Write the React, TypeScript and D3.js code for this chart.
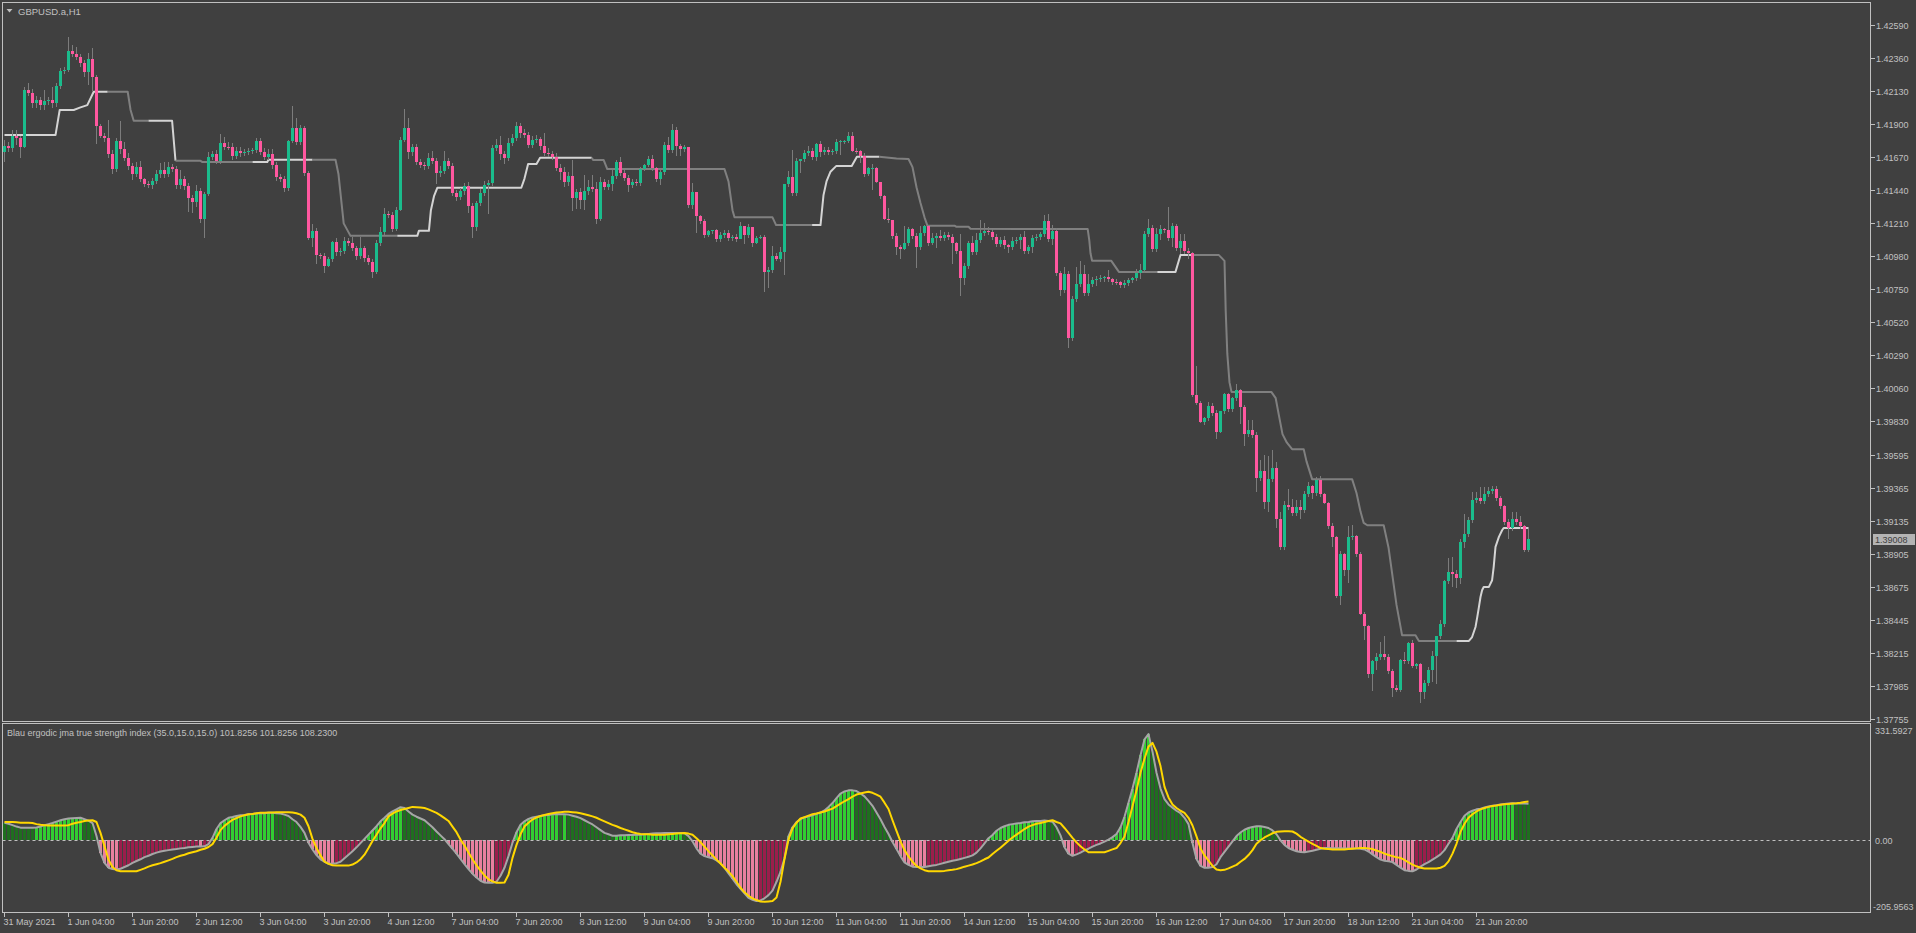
import React from "react";
import * as d3 from "d3";

// ---------------- DATA ----------------
const symbolTitle = "GBPUSD.a,H1";
const indicatorName = "Blau ergodic jma true strength index (35.0,15.0,15.0)";
const PIP = 0.0001;
const firstOpen = 1.41707;

const closes = [
  1.41747,1.41735,1.41816,1.41805,1.41742,1.42137,1.42114,1.42049,1.42067,1.42030,
  1.42060,1.42067,1.42049,1.42165,1.42269,1.42276,1.42409,1.42390,1.42369,1.42327,
  1.42265,1.42353,1.42230,1.41888,1.41816,1.41805,1.41691,1.41589,1.41781,1.41723,
  1.41665,1.41607,1.41551,1.41603,1.41517,1.41482,1.41477,1.41503,1.41551,1.41579,
  1.41551,1.41603,1.41589,1.41475,1.41517,1.41468,1.41387,1.41359,1.41433,1.41238,
  1.41410,1.41672,1.41691,1.41642,1.41768,1.41742,1.41738,1.41677,1.41712,1.41700,
  1.41706,1.41710,1.41716,1.41781,1.41705,1.41670,1.41693,1.41614,1.41531,1.41519,
  1.41456,1.41781,1.41874,1.41774,1.41874,1.41561,1.41103,1.41154,1.40985,1.40980,
  1.40913,1.40957,1.41078,1.41008,1.41013,1.41085,1.41073,1.41033,1.40980,1.41033,
  1.40968,1.40941,1.40866,1.41073,1.41150,1.41273,1.41266,1.41168,1.41301,1.41788,
  1.41874,1.41707,1.41740,1.41635,1.41614,1.41610,1.41661,1.41642,1.41561,1.41575,
  1.41644,1.41610,1.41421,1.41394,1.41433,1.41468,1.41331,1.41184,1.41347,1.41417,
  1.41475,1.41491,1.41735,1.41754,1.41691,1.41665,1.41765,1.41800,1.41886,1.41835,
  1.41823,1.41753,1.41788,1.41793,1.41749,1.41695,1.41690,1.41667,1.41595,1.41568,
  1.41498,1.41537,1.41386,1.41426,1.41370,1.41435,1.41458,1.41444,1.41235,1.41498,
  1.41463,1.41482,1.41537,1.41637,1.41561,1.41526,1.41475,1.41498,1.41486,1.41584,
  1.41614,1.41656,1.41591,1.41514,1.41568,1.41753,1.41719,1.41858,1.41749,1.41726,
  1.41737,1.41335,1.41428,1.41259,1.41226,1.41126,1.41154,1.41161,1.41098,1.41128,
  1.41142,1.41108,1.41115,1.41101,1.41189,1.41126,1.41184,1.41073,1.41108,1.41115,
  1.40868,1.40882,1.40980,1.40959,1.41010,1.41482,1.41530,1.41417,1.41642,1.41656,
  1.41700,1.41714,1.41672,1.41760,1.41702,1.41719,1.41702,1.41714,1.41777,1.41780,
  1.41781,1.41818,1.41714,1.41712,1.41679,1.41551,1.41591,1.41593,1.41496,1.41398,
  1.41238,1.41231,1.41122,1.41045,1.41029,1.41068,1.41166,1.41119,1.41045,1.41142,
  1.41189,1.41068,1.41108,1.41122,1.41108,1.41126,1.41112,1.41068,1.41017,1.40829,
  1.40912,1.41068,1.41010,1.41091,1.41142,1.41154,1.41147,1.41115,1.41061,1.41091,
  1.41057,1.41045,1.41084,1.41091,1.41115,1.41017,1.41040,1.41108,1.41112,1.41136,
  1.41224,1.41099,1.41154,1.40864,1.40743,1.40855,1.40411,1.40680,1.40785,1.40855,
  1.40720,1.40785,1.40813,1.40822,1.40827,1.40834,1.40820,1.40799,1.40797,1.40778,
  1.40792,1.40815,1.40824,1.40862,1.40882,1.41133,1.41175,1.41029,1.41133,1.41168,
  1.41161,1.41103,1.41191,1.41038,1.41085,1.41015,1.40999,1.40011,1.39960,1.39826,
  1.39851,1.39935,1.39888,1.39756,1.39900,1.40018,1.39914,1.39990,1.40046,1.39930,
  1.39740,1.39767,1.39733,1.39434,1.39481,1.39267,1.39425,1.39502,1.39146,1.38954,
  1.39244,1.39230,1.39191,1.39230,1.39209,1.39321,1.39376,1.39330,1.39418,1.39321,
  1.39260,1.39098,1.39023,1.38610,1.38903,1.38791,1.39021,1.39028,1.38905,1.38489,
  1.38403,1.38071,1.38157,1.38187,1.38210,1.38187,1.38090,1.37971,1.37960,1.38164,
  1.38159,1.38282,1.38122,1.38136,1.37943,1.38004,1.38094,1.38192,1.38331,1.38415,
  1.38714,1.38777,1.38765,1.38738,1.38986,1.39042,1.39139,1.39279,1.39293,1.39274,
  1.39321,1.39344,1.39356,1.39297,1.39239,1.39128,1.39088,1.39149,1.39128,1.39100,
  1.38935,1.39008,
];

// upper / lower wick lengths in pips
const upWick = [
  4,3,4,4,1,2,5,3,3,2, 8,2,9,2,2,2,10,4,5,2, 2,4,8,1,1,2,12,3,2,14, 5,3,2,3,4,1,2,2,3,5,
  6,3,2,2,6,2,2,2,4,2, 2,3,2,3,6,4,3,3,3,3, 2,2,2,2,2,3,3,3,2,2, 2,1,15,7,2,1,1,5,2,2,
  2,2,1,3,2,3,2,4,2,8, 2,2,2,2,3,4,2,2,2,2, 13,7,2,2,2,2,4,5,2,3, 7,2,2,2,2,2,3,2,2,3,
  3,2,2,4,6,2,4,3,3,2, 3,2,3,3,2,9,4,2,3,3, 3,3,11,2,3,11,5,9,5,3, 2,3,4,1,3,2,2,2,2,2,
  1,2,3,1,2,2,6,4,2,1, 2,0,6,0,1,1,1,0,1,2, 2,2,1,2,3,0,2,0,1,1, 1,2,7,2,3,0,4,19,2,0,
  2,3,2,1,2,2,2,1,2,1, 1,3,3,2,1,2,1,3,1,0, 1,8,0,2,1,12,2,1,2,5, 1,0,3,2,4,2,2,2,1,12,
  2,2,5,5,9,6,3,2,2,2, 3,1,3,2,2,4,2,2,2,1, 4,5,4,2,1,5,2,2,12,9, 6,7,2,2,2,1,5,1,2,1,
  2,1,1,3,4,2,6,2,4,3, 1,16,2,1,5,5,2,1,20,1, 1,3,2,2,0,1,1,1,4,1, 1,7,7,2,8,11,16,13,4,5,
  3,11,6,5,5,2,3,1,2,3, 1,1,2,1,2,1,8,8,1,1, 1,1,1,3,8,12,2,1,2,1, 6,1,2,1,1,2,2,4,0,3,
  1,10,11,3,2,14,2,6,4,8, 5,3,2,2,1,1,2,5,5,4, 1,7,
];
const dnWick = [
  7,3,3,5,8,1,2,4,4,3, 3,3,4,3,2,2,1,2,2,3, 4,9,10,13,1,3,3,4,2,3, 2,3,4,2,2,2,2,3,2,3,
  3,2,2,3,3,3,10,8,4,3, 13,1,2,2,2,2,2,3,2,3, 2,2,2,2,2,2,2,3,3,2, 3,2,1,2,2,2,1,6,6,2,
  5,1,2,3,3,2,2,2,3,2, 3,2,4,1,2,2,2,2,1,1, 1,5,3,2,2,3,2,2,8,3, 2,2,2,3,2,3,5,8,3,2,
  2,20,2,2,4,4,2,2,2,3, 2,2,2,2,3,2,2,2,2,6, 4,3,9,8,6,7,3,2,3,1, 2,2,5,2,2,2,5,2,2,2,
  1,1,2,2,4,2,2,2,7,5, 2,2,3,12,2,2,1,2,2,2, 2,2,2,2,0,6,2,3,1,1, 14,11,2,1,2,16,2,2,2,8,
  2,2,2,3,3,2,2,2,2,9, 2,1,1,2,5,2,1,15,1,2, 1,2,2,6,7,1,2,2,15,2, 2,2,1,7,2,2,2,14,2,13,
  5,2,2,2,2,2,2,2,2,2, 3,4,2,2,6,2,2,4,2,2, 2,2,4,2,4,2,7,2,2,2, 2,2,2,4,2,3,2,2,2,2,
  2,2,2,2,4,2,2,2,2,4, 2,2,6,2,4,2,4,1,2,1, 2,2,2,5,1,2,2,2,2,12, 8,2,2,10,2,5,7,2,6,2,
  2,2,2,2,6,2,2,4,2,2, 1,2,7,1,6,4,9,2,2,1, 10,3,12,6,2,2,2,6,2,2, 2,2,1,2,8,5,2,8,19,2,
  2,2,9,7,4,4,2,2,2,2, 2,2,2,2,2,2,8,2,2,2, 2,2,
];

// step (trailing) line: [bar, price, state] state 1 = light, 0 = grey
const stepKnots: [number, number, number][] = [
  [0,1.41823,1],[12.75,1.41823,1],[13.8,1.41998,1],[17.3,1.41998,1],[19,1.42016,1],[20.7,1.42032,1],
  [22.3,1.42125,1],[25.8,1.42125,0],[30.8,1.42125,0],[31.5,1.42,0],[32.3,1.41923,0],[36,1.41923,1],
  [41.9,1.41923,1],[42.75,1.41644,0],[49,1.41644,0],[49.5,1.41635,0],[62,1.41635,1],[65.7,1.41635,1],
  [66,1.41651,1],[77,1.41651,0],[82.75,1.41651,0],[83.5,1.4155,0],[84.8,1.41208,0],[86.5,1.41121,0],
  [98.2,1.41121,1],[103.2,1.41121,1],[103.6,1.41156,1],[106.1,1.41156,1],[106.6,1.413,1],[107.4,1.414,1],
  [108.2,1.41456,1],[129.2,1.41456,1],[130,1.4152,1],[130.9,1.41621,1],[133,1.41621,1],[133.9,1.41665,1],
  [146.8,1.41665,0],[147.2,1.41649,0],[149.8,1.41649,0],[150.7,1.41586,0],[180,1.41586,0],[181,1.415,0],
  [182,1.413,0],[182.5,1.4125,0],[192,1.4125,0],[192.9,1.41196,0],[201.9,1.41196,1],[204,1.41196,1],
  [204.75,1.41405,1],[205.5,1.415,1],[206.5,1.41568,1],[207.9,1.41607,1],[211.8,1.41607,1],[213.1,1.41672,1],
  [218.7,1.41672,0],[223,1.4166,0],[226,1.41656,0],[227,1.416,0],[228,1.4146,0],[229,1.4135,0],
  [230,1.4125,0],[230.75,1.41191,0],[237.6,1.41191,0],[238,1.41184,0],[241,1.41184,0],[241.5,1.4117,0],
  [270.8,1.41168,0],[271.2,1.4109,0],[271.5,1.41,0],[271.9,1.40947,0],[276.7,1.40947,0],[278.6,1.4087,0],
  [288.2,1.4087,1],[292.75,1.4087,1],[294,1.40987,1],[296.9,1.40987,0],[303.6,1.40987,0],[305,1.40947,0],
  [305.3,1.406,0],[305.7,1.403,0],[306.25,1.401,0],[306.75,1.40034,0],[316.7,1.40034,0],[317.8,1.3999,0],
  [318.6,1.3987,0],[319.5,1.3974,0],[320.6,1.3968,0],[321.9,1.39635,0],[324.8,1.39635,0],[325.5,1.3955,0],
  [326.9,1.39426,0],[336.9,1.39426,0],[338,1.3933,0],[339,1.392,0],[339.8,1.39121,0],[340.7,1.39105,0],
  [344.8,1.39105,0],[346,1.3895,0],[347,1.3875,0],[348,1.3855,0],[349.4,1.38338,0],[352.75,1.38338,0],
  [353.6,1.38299,0],[363,1.38299,1],[366.1,1.38299,1],[366.9,1.38326,1],[367.75,1.38396,1],[368.2,1.38466,1],
  [368.6,1.38535,1],[369,1.38605,1],[369.4,1.38652,1],[369.8,1.38675,1],[371.1,1.38675,1],[371.9,1.38722,1],
  [372.3,1.38815,1],[372.75,1.38954,1],[373.6,1.39024,1],[374.4,1.3907,1],[374.8,1.39086,1],[381,1.39086,1],
];

// indicator: TSI (grey line & histogram) and signal (yellow)
const tsi = [
  48,45,41,37,34,33.8,33.6,33.5,34.5,37, 41,44,47,51,55,58,60,61,61.5,62, 58,54,47,10,-38,-66,-80,-84,-85,-83,
  -78,-73,-66,-61,-56,-50,-46,-41,-37,-34, -32,-30,-28,-27,-25,-24,-22,-21,-20,-20,
  -19,-13,5,30,47,55,62,64,67,69, 70,72,73,74,75,75,76,76,75,74, 71,67,58,50,36,19,-9,-28,-44,-56,
  -63,-68,-69,-67,-63,-53,-43,-33,-22,-10, 2,14,26,38,52,62,73,80,86,92, 90,80,71,65,60,55,45,35,23,12,
  1,-13,-26,-40,-55,-70,-84,-97,-108,-117, -122,-123,-123,-120,-103,-80,-47,-9,21,42,
  52,59,63,65,67,69,70,72,73,72, 72,71,68,65,61,55,49,43,35,27, 19,15,11,11,12,12,13,13,14,14,
  15,16,17,18,18,19,19,19,19,19, 18,10,-5,-25,-40,-47,-50,-53,-59,-67,
  -80,-96,-111,-127,-140,-153,-166,-171,-175,-173, -167,-158,-145,-120,-92,-53,10,35,50,58,
  63,66,69,73,77,83,93,104,118,131, 137,140,140,138,131,123,110,96,77,58, 36,16,-7,-27,-47,-65,-72,-77,-78,-78,
  -78,-76,-74,-72,-69,-66,-63,-60,-58,-55, -52,-49,-45,-37,-25,-11,4,13,25,33, 38,42,44,46,47,49,50,52,53,53,
  54,53,51,35,12,-22,-40,-46,-42,-37, -31,-26,-20,-15,-11,-6,0,7,16,35, 65,105,145,190,240,285,300,250,190,145,
  115,100,91,82,75,62,44,-10,-55,-75, -80,-80,-78,-70,-50,-35,-20,-5,10,20, 28,33,36,38,38,36,33,26,15,-2,
  -15,-24,-29,-33,-35,-36,-34,-32,-29,-26, -24,-24.2,-24.4,-24.6,-24.8,-25,-25.2,-25.4,-25.6,-26,
  -28,-34,-42,-50,-57,-60,-62,-64,-72,-80, -87,-89,-90,-85,-77,-70,-64,-57,-50,-42,
  -30,-12,5,30,50,68,77,82,86,88, 91,94,96,98,100,101.5,102.5,103,102.9,102.7, 102.3,101.8256,
];
const signal = [
  50,50,50,49,48,48,48,47,44,42, 41,40,40,40,40,40,41,45,48,50, 53,54,55,50,19,-19,-57,-78,-87,-90,
  -90,-90,-90,-90,-86,-82,-77,-73,-70,-67, -63,-59,-55,-50,-46,-43,-39,-36,-33,-29,
  -26,-21,-13,5,27,39,48,56,61,66, 69,72,73,75,76,76,77,77,78,78, 78,78,77,75,71,62,38,2,-24,-45,
  -63,-69,-73,-74,-74,-74,-74,-71,-65,-56, -43,-24,-4,14,32,47,66,74,80,84, 87,90,93,92,91,90,86,81,76,69,
  61,53,37,21,0,-17,-37,-56,-73,-88, -102,-113,-119,-123,-123,-122,-100,-52,-15,15,
  37,48,57,63,67,70,73,75,77,78, 79,79,78,77,75,72,69,66,62,57, 52,47,42,38,33,29,25,21,18,16,
  15,15,14,14,14,14,15,16,17,18, 19,17,14,4,-7,-20,-33,-45,-57,-68,
  -80,-91,-104,-120,-137,-150,-160,-167,-172,-176, -177,-176,-175,-165,-120,-55,0,32,48,60,
  64,68,72,74,77,80,84,88,95,102, 109,115,122,128,131,134,136,133,128,122, 105,87,55,25,-5,-30,-48,-63,-75,-82,
  -87,-90,-90,-90,-90,-89,-87,-86,-84,-81, -77,-74,-71,-67,-62,-56,-51,-41,-32,-23, -13,-3,6,14,22,30,37,41,45,47,
  50,53,55,50,46,33,19,5,-8,-19, -28,-36,-36,-36,-36,-36,-32,-28,-24,-10, 9,50,95,140,190,230,265,275,250,209,
  150,120,100,90,82,76,62,40,9,-25, -45,-60,-75,-85,-87,-86,-82,-77,-72,-63, -55,-44,-30,-12,-2,6,12,18,22,23,
  24,24,23,17,8,1,-6,-12,-18,-24, -26,-27,-28,-28,-28,-28,-27,-26,-25,-24,
  -24,-25,-27,-31,-35,-40,-44,-47,-50,-52, -58,-65,-71,-76,-80,-82,-82,-82,-82,-80,
  -75,-62,-40,-12,22,45,62,72,80,86, 90,93,95.5,97,99,100.5,101.5,102.5,103.5,105, 107,108.23,
];

const priceTicks = [
  1.42590,1.42360,1.42130,1.41900,1.41670,1.41440,1.41210,1.40980,1.40750,1.40520,1.40290,
  1.40060,1.39830,1.39595,1.39365,1.39135,1.38905,1.38675,1.38445,1.38215,1.37985,1.37755,
];
const indMax = 331.5927;
const indMin = -205.9563;

const timeLabels = [
  "31 May 2021","1 Jun 04:00","1 Jun 20:00","2 Jun 12:00","3 Jun 04:00","3 Jun 20:00",
  "4 Jun 12:00","7 Jun 04:00","7 Jun 20:00","8 Jun 12:00","9 Jun 04:00","9 Jun 20:00",
  "10 Jun 12:00","11 Jun 04:00","11 Jun 20:00","14 Jun 12:00","15 Jun 04:00","15 Jun 20:00",
  "16 Jun 12:00","17 Jun 04:00","17 Jun 20:00","18 Jun 12:00","21 Jun 04:00","21 Jun 20:00",
];
const barsPerLabel = 16;

// ---------------- STYLE ----------------
const W = 1916, H = 933;
const BG = "#404040";
const FG = "#c0c0c0";
const BULL = "#1abc8c";
const BEAR = "#ff579f";
const WICK = "#7c7c7c";
const STEP_LIGHT = "#d4d4d4";
const STEP_GREY = "#808080";
const H_UP_STRONG = "#32cd32";
const H_UP_WEAK = "#1f6e1f";
const H_DN_STRONG = "#e8809f";
const H_DN_WEAK = "#9a1e4b";
const TSI_C = "#a6a6a6";
const SIG_C = "#ffd700";
const FONT = "'Liberation Sans', Arial, sans-serif";

const L = 2.5, R = 1870.5, MT = 2.5, MB = 721.5, IT = 723.5, IB = 912.5;

export default function App() {
  const n = closes.length;
  const x = d3.scaleLinear().domain([0, 1]).range([4, 8]);
  const yP = d3.scaleLinear().domain([priceTicks[priceTicks.length - 1], priceTicks[0]]).range([719, 25]);
  const yI = d3.scaleLinear().domain([indMin, indMax]).range([912, 723]);

  const opens = closes.map((c, i) => (i === 0 ? firstOpen : closes[i - 1]));
  const highs = closes.map((c, i) => Math.max(opens[i], c) + upWick[i] * PIP);
  const lows = closes.map((c, i) => Math.min(opens[i], c) - dnWick[i] * PIP);

  // step line runs
  const runs: { state: number; pts: [number, number][] }[] = [];
  for (let i = 0; i < stepKnots.length - 1; i++) {
    const s = stepKnots[i][2];
    const a: [number, number] = [stepKnots[i][0], stepKnots[i][1]];
    const b: [number, number] = [stepKnots[i + 1][0], stepKnots[i + 1][1]];
    const last = runs[runs.length - 1];
    if (last && last.state === s) last.pts.push(b);
    else runs.push({ state: s, pts: [a, b] });
  }
  const stepLine = d3.line<[number, number]>().x((d) => x(d[0]) + 0.5).y((d) => yP(d[1]));
  const indLine = d3.line<number>().x((_, i) => x(i) + 0.5).y((d) => yI(d));

  const y0 = Math.round(yI(0));
  const last = closes[n - 1];
  const yLast = Math.round(yP(last));

  const header = `${indicatorName} ${tsi[n - 1].toFixed(4)} ${tsi[n - 1].toFixed(4)} ${signal[n - 1].toFixed(4)}`;

  return (
    <svg
      width={W}
      height={H}
      style={{ position: "fixed", left: 0, top: 0, display: "block", background: BG }}
      fontFamily={FONT}
    >
      <rect x={0} y={0} width={W} height={H} fill={BG} />

      {/* step line */}
      {runs.map((r, i) => (
        <path key={"s" + i} d={stepLine(r.pts) || ""} fill="none"
          stroke={r.state ? STEP_LIGHT : STEP_GREY} strokeWidth={2} strokeLinejoin="round" />
      ))}

      {/* candles */}
      <g shapeRendering="crispEdges">
        {closes.map((c, i) => {
          const cx = x(i);
          const top = Math.round(yP(Math.max(opens[i], c)));
          const bot = Math.round(yP(Math.min(opens[i], c)));
          return (
            <g key={"c" + i}>
              <line x1={cx + 0.5} x2={cx + 0.5} y1={Math.round(yP(highs[i]))} y2={Math.round(yP(lows[i]))}
                stroke={WICK} strokeWidth={1} />
              <rect x={cx - 1} y={top} width={3} height={Math.max(1, bot - top)}
                fill={c >= opens[i] ? BULL : BEAR} />
            </g>
          );
        })}
      </g>

      {/* indicator histogram: colour by direction of the value */}
      <g shapeRendering="crispEdges">
        {tsi.map((v, i) => {
          const yv = Math.round(yI(v));
          const prev = i > 0 ? tsi[i - 1] : Infinity;
          let col: string;
          if (v >= 0) col = v >= prev ? H_UP_STRONG : H_UP_WEAK;
          else col = v <= prev ? H_DN_STRONG : H_DN_WEAK;
          return (
            <rect key={"h" + i} x={x(i) - 1} y={Math.min(yv, y0)} width={3}
              height={Math.max(1, Math.abs(yv - y0))} fill={col} />
          );
        })}
      </g>
      <line x1={L} x2={R} y1={y0 + 0.5} y2={y0 + 0.5} stroke={FG} strokeWidth={1} strokeDasharray="3,3" />
      <path d={indLine(tsi) || ""} fill="none" stroke={TSI_C} strokeWidth={2} strokeLinejoin="round" />
      <path d={indLine(signal) || ""} fill="none" stroke={SIG_C} strokeWidth={2} strokeLinejoin="round" />

      {/* frames */}
      <g fill="none" stroke={FG} strokeWidth={1} shapeRendering="crispEdges">
        <rect x={L} y={MT} width={R - L} height={MB - MT} />
        <rect x={L} y={IT} width={R - L} height={IB - IT} />
      </g>

      {/* titles */}
      <path d="M6.5,9 L12.5,9 L9.5,12.5 Z" fill={FG} />
      <text x={18} y={14.5} fontSize={9.5} fill={FG}>{symbolTitle}</text>
      <text x={7} y={736} fontSize={9} fill={FG}>{header}</text>

      {/* price axis */}
      <g fontSize={9} fill={FG}>
        {priceTicks.map((p, i) => {
          const yy = Math.round(yP(p)) + 0.5;
          return (
            <g key={"p" + i}>
              <line x1={R} x2={R + 4} y1={yy} y2={yy} stroke={FG} shapeRendering="crispEdges" />
              <text x={1876} y={yy + 3.2}>{p.toFixed(5)}</text>
            </g>
          );
        })}
      </g>
      <rect x={1873} y={yLast - 5.5} width={42} height={11} fill="#b4b4b4" shapeRendering="crispEdges" />
      <text x={1875} y={yLast + 3.5} fontSize={9} fill="#404040">{last.toFixed(5)}</text>

      {/* indicator axis */}
      <g fontSize={9} fill={FG}>
        <text x={1875} y={734}>{indMax.toFixed(4)}</text>
        <text x={1875} y={y0 + 4}>{(0).toFixed(2)}</text>
        <text x={1873} y={910}>{indMin.toFixed(4)}</text>
      </g>

      {/* time axis */}
      <g fontSize={9} fill={FG}>
        {timeLabels.map((t, k) => {
          const tx = Math.round(x(k * barsPerLabel)) + 0.5;
          return (
            <g key={"t" + k}>
              <line x1={tx} x2={tx} y1={IB} y2={IB + 4} stroke={FG} shapeRendering="crispEdges" />
              <text x={tx - 1} y={925}>{t}</text>
            </g>
          );
        })}
      </g>
    </svg>
  );
}
